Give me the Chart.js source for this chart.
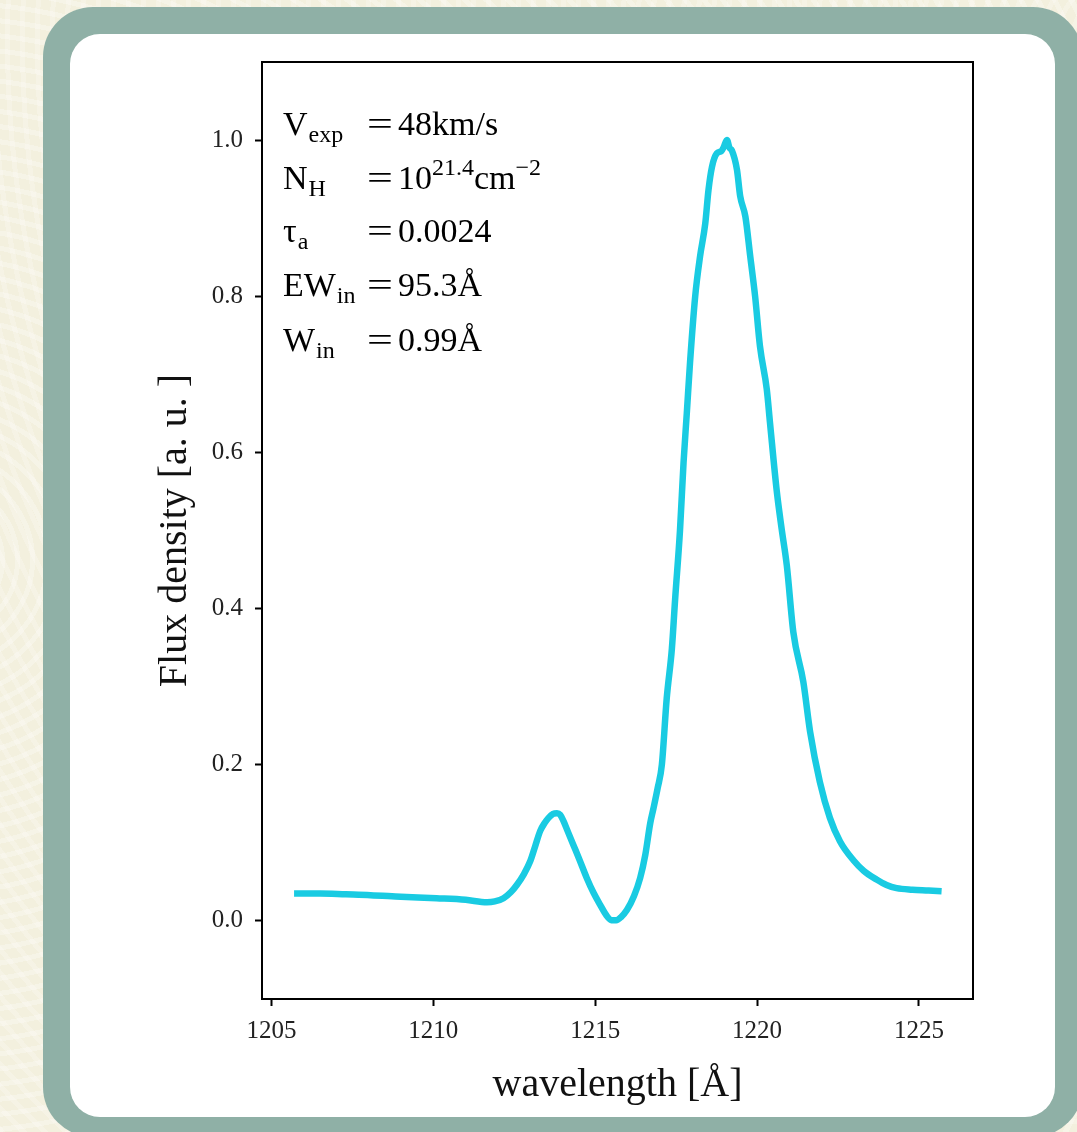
<!DOCTYPE html>
<html>
<head>
<meta charset="utf-8">
<script src="https://cdn.jsdelivr.net/npm/chart.js@4.4.1/dist/chart.umd.min.js"></script>
<style>
  html, body { margin:0; padding:0; }
  body {
    width:1077px; height:1132px; overflow:hidden; position:relative;
    background-color:#f3f0de;
    background-image:
      repeating-radial-gradient(circle at -60px 560px, rgba(255,255,255,0.28) 0 5px, rgba(255,255,255,0) 5px 15px),
      repeating-radial-gradient(circle at 1120px 40px, rgba(255,255,255,0.22) 0 5px, rgba(255,255,255,0) 5px 15px);
  }
  .frame { position:absolute; left:43px; top:7px; width:1040px; height:1130px; background:#8fb0a6; border-radius:50px; }
  .panel { position:absolute; left:70px; top:34px; width:985px; height:1083px; background:#ffffff; border-radius:30px; overflow:hidden; }
  .chartbox { position:absolute; left:0; top:0; width:985px; height:1083px; }
  .ann { position:absolute; left:283px; font-family:'Liberation Serif', 'Times New Roman', serif; font-size:34px; line-height:34px; color:#000; white-space:nowrap; }
  .ann .eq { position:absolute; left:84px; top:0; }
  .ann .eqs { display:inline-block; transform:scaleX(1.35); transform-origin:left center; width:26px; }
  .ann sub { font-size:24px; vertical-align:baseline; position:relative; top:7px; margin-left:1px; }
  .ann sup { font-size:24px; vertical-align:baseline; position:relative; top:-14px; }
  .ann .gap { display:inline-block; width:5px; }
</style>
</head>
<body>
<div class="frame"></div>
<div class="panel"><div class="chartbox"><canvas id="c" width="985" height="1083"></canvas></div></div>

<div class="ann" style="top:107px">V<sub>exp</sub><span class="eq"><span class="eqs">=</span><span class="gap"></span>48km/s</span></div>
<div class="ann" style="top:161px">N<sub>H</sub><span class="eq"><span class="eqs">=</span><span class="gap"></span>10<sup>21.4</sup>cm<sup>−2</sup></span></div>
<div class="ann" style="top:214px">τ<sub>a</sub><span class="eq"><span class="eqs">=</span><span class="gap"></span>0.0024</span></div>
<div class="ann" style="top:268px">EW<sub>in</sub><span class="eq"><span class="eqs">=</span><span class="gap"></span>95.3Å</span></div>
<div class="ann" style="top:323px">W<sub>in</sub><span class="eq"><span class="eqs">=</span><span class="gap"></span>0.99Å</span></div>

<script>
// ---- data ----
const wavelength = [
  1205.7, 1206.5, 1207.3, 1208.06, 1209.0, 1210.1, 1211.0, 1211.66, 1211.9, 1212.17,
  1212.4, 1212.58, 1212.8, 1213.0, 1213.15, 1213.3, 1213.45, 1213.56, 1213.7, 1213.82,
  1213.92, 1214.02, 1214.15, 1214.33, 1214.5, 1214.74, 1214.95, 1215.15, 1215.35, 1215.5,
  1215.65, 1215.8, 1215.98, 1216.2, 1216.39, 1216.55, 1216.7, 1216.8, 1216.93, 1217.06,
  1217.21, 1217.37, 1217.47, 1217.62, 1217.73, 1217.83, 1217.93, 1218.09, 1218.24, 1218.4,
  1218.5, 1218.61, 1218.76, 1218.9, 1218.97, 1219.07, 1219.15, 1219.22, 1219.38, 1219.48,
  1219.64, 1219.79, 1219.94, 1220.09, 1220.3, 1220.4, 1220.61, 1220.76, 1220.92, 1221.12,
  1221.43, 1221.64, 1221.94, 1222.25, 1222.56, 1222.97, 1223.3, 1223.69, 1224.0, 1224.31,
  1224.8, 1225.3, 1225.7
];
const flux = [
  0.035, 0.035, 0.034, 0.033, 0.031, 0.029, 0.027, 0.024, 0.025, 0.029,
  0.037, 0.046, 0.060, 0.077, 0.096, 0.115, 0.126, 0.132, 0.137, 0.138,
  0.136, 0.128, 0.115, 0.097, 0.080, 0.055, 0.036, 0.021, 0.007, 0.001,
  0.001, 0.005, 0.014, 0.032, 0.055, 0.085, 0.125, 0.144, 0.170, 0.200,
  0.285, 0.349, 0.412, 0.500, 0.587, 0.650, 0.715, 0.800, 0.851, 0.893,
  0.936, 0.966, 0.983, 0.986, 0.991, 1.000, 0.990, 0.987, 0.962, 0.928,
  0.902, 0.851, 0.800, 0.736, 0.681, 0.638, 0.550, 0.502, 0.455, 0.370,
  0.306, 0.242, 0.178, 0.132, 0.102, 0.078, 0.064, 0.053, 0.046, 0.042,
  0.040, 0.039, 0.038
];
const xTicks = [1205, 1210, 1215, 1220, 1225];
const yTicks = [0.0, 0.2, 0.4, 0.6, 0.8, 1.0];
const xLimits = [1204.71, 1226.67];
const yLimits = [-0.1, 1.1];

const points = wavelength.map((w, i) => ({ x: w, y: flux[i] }));

const boxPlugin = {
  id: 'box',
  afterDraw(chart) {
    const { ctx, chartArea: a } = chart;
    ctx.save();
    ctx.strokeStyle = '#000';
    ctx.lineWidth = 2;
    ctx.strokeRect(a.left, a.top, a.right - a.left, a.bottom - a.top);
    ctx.restore();
  }
};

const serif = "'Liberation Serif', 'Times New Roman', serif";

new Chart(document.getElementById('c'), {
  type: 'line',
  data: {
    datasets: [{
      data: points,
      borderColor: '#19cbe2',
      borderWidth: 6.5,
      pointRadius: 0,
      fill: false,
      cubicInterpolationMode: 'monotone',
      borderCapStyle: 'butt',
      borderJoinStyle: 'round'
    }]
  },
  options: {
    responsive: false,
    animation: false,
    events: [],
    layout: { padding: { left: 0, right: 82, top: 28, bottom: 0 } },
    plugins: { legend: { display: false }, tooltip: { enabled: false } },
    scales: {
      x: {
        type: 'linear',
        min: xLimits[0], max: xLimits[1],
        afterBuildTicks: s => { s.ticks = xTicks.map(v => ({ value: v })); },
        afterFit: s => { s.height = 118; },
        grid: { drawOnChartArea: false, drawTicks: true, tickLength: 7, tickWidth: 2, color: '#000' },
        border: { display: true, color: '#000', width: 2 },
        ticks: { font: { family: serif, size: 25 }, color: '#222', padding: 10, maxRotation: 0, callback: v => String(v) },
        title: { display: true, text: 'wavelength [Å]', font: { family: serif, size: 40 }, color: '#111', padding: { top: 0, bottom: 8 } }
      },
      y: {
        type: 'linear',
        min: yLimits[0], max: yLimits[1],
        afterBuildTicks: s => { s.ticks = yTicks.map(v => ({ value: v })); },
        afterFit: s => { s.width = 192; },
        grid: { drawOnChartArea: false, drawTicks: true, tickLength: 7, tickWidth: 2, color: '#000' },
        border: { display: true, color: '#000', width: 2 },
        ticks: { font: { family: serif, size: 25 }, color: '#222', padding: 12, callback: v => Number(v).toFixed(1) },
        title: { display: true, text: 'Flux density [a. u. ]', font: { family: serif, size: 40 }, color: '#111', padding: { top: 81, bottom: 0 } }
      }
    }
  },
  plugins: [boxPlugin]
});
</script>
</body>
</html>
